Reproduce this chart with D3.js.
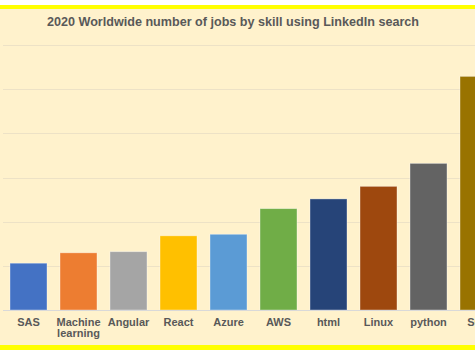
<!DOCTYPE html>
<html>
<head>
<meta charset="utf-8">
<script src="https://cdn.jsdelivr.net/npm/d3@7"></script>
<style>
  html, body { margin: 0; padding: 0; background: #fff; }
  svg { display: block; }
  text { font-family: "Liberation Sans", Arial, sans-serif; }
</style>
</head>
<body>
<svg id="chart" width="475" height="356"></svg>
<script>
const titleText = "2020 Worldwide number of jobs by skill using LinkedIn search";
const categories = ["SAS", "Machine learning", "Angular", "React", "Azure", "AWS", "html", "Linux", "python", "SQL"];
const jobs = [10600, 12950, 13200, 16800, 17150, 22950, 25150, 28000, 33200, 52900];
const colors = ["#4472C4", "#ED7D31", "#A5A5A5", "#FFC000", "#5B9BD5", "#70AD47", "#264478", "#9E480E", "#636363", "#997300"];
const gridTicks = [0, 10000, 20000, 30000, 40000, 50000, 60000];

const svg = d3.select("#chart");
const W = 475, H = 356;

// background + yellow borders
svg.append("rect").attr("x", 0).attr("y", 5).attr("width", W).attr("height", 345).attr("fill", "#FFF2CC");
svg.append("rect").attr("x", 0).attr("y", 5).attr("width", W).attr("height", 4).attr("fill", "#FFFF00");
svg.append("rect").attr("x", 0).attr("y", 345).attr("width", W).attr("height", 5).attr("fill", "#FFFF00");

const x = d3.scaleBand().domain(categories).range([3.5, 503.5]).paddingInner(0.26).paddingOuter(0.13);
const y = d3.scaleLinear().domain([0, 60000]).range([310, 45]);

// gridlines
svg.append("g").selectAll("line").data(gridTicks.slice(1)).join("line")
  .attr("x1", 3).attr("x2", W)
  .attr("y1", d => Math.round(y(d)) + 0.5).attr("y2", d => Math.round(y(d)) + 0.5)
  .attr("stroke", "#EDE2C6").attr("stroke-width", 1);

// bars
svg.append("g").selectAll("rect").data(categories).join("rect")
  .attr("x", d => x(d))
  .attr("y", (d, i) => y(jobs[i]))
  .attr("width", x.bandwidth())
  .attr("height", (d, i) => y(0) - y(jobs[i]))
  .attr("fill", (d, i) => colors[i])
  .attr("stroke", "#ffffff").attr("stroke-opacity", 0.45).attr("stroke-width", 0.8);

// baseline axis
const xAxis = d3.axisBottom(x).tickSize(0).tickPadding(8);
const gx = svg.append("g").attr("transform", "translate(0,310)").call(xAxis);
gx.select(".domain").attr("stroke", "#D9D9D9").attr("d", "M3,0.5H" + W);
gx.selectAll(".tick text")
  .attr("fill", "#595959")
  .style("font-size", "11px")
  .style("font-weight", "bold")
  .each(function(d) {
    const words = d.split(" ");
    if (words.length > 1) {
      const t = d3.select(this);
      t.text(null);
      words.forEach((w, k) => {
        t.append("tspan").attr("x", 0).attr("dy", k === 0 ? "0.71em" : "1.05em").text(w);
      });
    }
  });

// title
svg.append("text")
  .attr("x", 233).attr("y", 26)
  .attr("text-anchor", "middle")
  .attr("fill", "#595959")
  .style("font-size", "12.6px")
  .style("font-weight", "bold")
  .text(titleText);
</script>
</body>
</html>
